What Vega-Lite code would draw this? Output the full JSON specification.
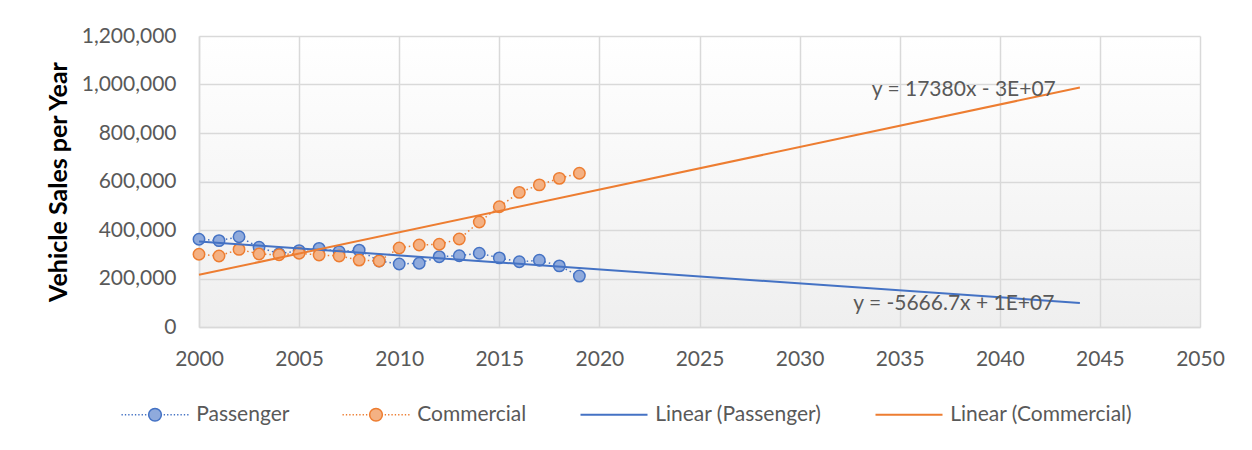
{
  "$schema": "https://vega.github.io/schema/vega-lite/v6.json",
  "width": 1001,
  "height": 291,
  "autosize": {"type": "none"},
  "padding": {"left": 199, "top": 36, "right": 52, "bottom": 123},
  "background": "white",
  "config": {
    "font": "Lato",
    "view": {"stroke": null, "fill": {"gradient": "linear", "x1": 0, "y1": 0, "x2": 0, "y2": 1, "stops": [{"offset": 0, "color": "#FFFFFF"}, {"offset": 1, "color": "#EFEFEF"}]}},
    "axis": {"labelFont": "Lato", "labelFontSize": 21, "labelColor": "#595959", "gridColor": "#D9D9D9", "gridWidth": 1.5, "domainColor": "#D9D9D9", "domainWidth": 1.5, "ticks": false, "labelFlush": false}
  },
  "data": {"values": [
    {"year": 2000, "series": "Passenger", "trend": "Linear (Passenger)", "value": 362000},
    {"year": 2001, "series": "Passenger", "trend": "Linear (Passenger)", "value": 356000},
    {"year": 2002, "series": "Passenger", "trend": "Linear (Passenger)", "value": 372000},
    {"year": 2003, "series": "Passenger", "trend": "Linear (Passenger)", "value": 329000},
    {"year": 2004, "series": "Passenger", "trend": "Linear (Passenger)", "value": 302000},
    {"year": 2005, "series": "Passenger", "trend": "Linear (Passenger)", "value": 315000},
    {"year": 2006, "series": "Passenger", "trend": "Linear (Passenger)", "value": 324000},
    {"year": 2007, "series": "Passenger", "trend": "Linear (Passenger)", "value": 311000},
    {"year": 2008, "series": "Passenger", "trend": "Linear (Passenger)", "value": 317000},
    {"year": 2009, "series": "Passenger", "trend": "Linear (Passenger)", "value": 272000},
    {"year": 2010, "series": "Passenger", "trend": "Linear (Passenger)", "value": 260000},
    {"year": 2011, "series": "Passenger", "trend": "Linear (Passenger)", "value": 263000},
    {"year": 2012, "series": "Passenger", "trend": "Linear (Passenger)", "value": 290000},
    {"year": 2013, "series": "Passenger", "trend": "Linear (Passenger)", "value": 294000},
    {"year": 2014, "series": "Passenger", "trend": "Linear (Passenger)", "value": 304000},
    {"year": 2015, "series": "Passenger", "trend": "Linear (Passenger)", "value": 285000},
    {"year": 2016, "series": "Passenger", "trend": "Linear (Passenger)", "value": 269000},
    {"year": 2017, "series": "Passenger", "trend": "Linear (Passenger)", "value": 275000},
    {"year": 2018, "series": "Passenger", "trend": "Linear (Passenger)", "value": 252000},
    {"year": 2019, "series": "Passenger", "trend": "Linear (Passenger)", "value": 210000},
    {"year": 2000, "series": "Commercial", "trend": "Linear (Commercial)", "value": 300000},
    {"year": 2001, "series": "Commercial", "trend": "Linear (Commercial)", "value": 293000},
    {"year": 2002, "series": "Commercial", "trend": "Linear (Commercial)", "value": 320000},
    {"year": 2003, "series": "Commercial", "trend": "Linear (Commercial)", "value": 301000},
    {"year": 2004, "series": "Commercial", "trend": "Linear (Commercial)", "value": 298000},
    {"year": 2005, "series": "Commercial", "trend": "Linear (Commercial)", "value": 304000},
    {"year": 2006, "series": "Commercial", "trend": "Linear (Commercial)", "value": 297000},
    {"year": 2007, "series": "Commercial", "trend": "Linear (Commercial)", "value": 293000},
    {"year": 2008, "series": "Commercial", "trend": "Linear (Commercial)", "value": 276000},
    {"year": 2009, "series": "Commercial", "trend": "Linear (Commercial)", "value": 272000},
    {"year": 2010, "series": "Commercial", "trend": "Linear (Commercial)", "value": 326000},
    {"year": 2011, "series": "Commercial", "trend": "Linear (Commercial)", "value": 338000},
    {"year": 2012, "series": "Commercial", "trend": "Linear (Commercial)", "value": 341000},
    {"year": 2013, "series": "Commercial", "trend": "Linear (Commercial)", "value": 363000},
    {"year": 2014, "series": "Commercial", "trend": "Linear (Commercial)", "value": 433000},
    {"year": 2015, "series": "Commercial", "trend": "Linear (Commercial)", "value": 496000},
    {"year": 2016, "series": "Commercial", "trend": "Linear (Commercial)", "value": 555000},
    {"year": 2017, "series": "Commercial", "trend": "Linear (Commercial)", "value": 586000},
    {"year": 2018, "series": "Commercial", "trend": "Linear (Commercial)", "value": 613000},
    {"year": 2019, "series": "Commercial", "trend": "Linear (Commercial)", "value": 634000}
  ]},
  "encoding": {
    "x": {"field": "year", "type": "quantitative", "scale": {"domain": [2000, 2050], "nice": false, "zero": false},
      "axis": {"values": [2000, 2005, 2010, 2015, 2020, 2025, 2030, 2035, 2040, 2045, 2050], "format": "d", "title": null, "labelPadding": 21, "grid": true}},
    "y": {"field": "value", "type": "quantitative", "scale": {"domain": [0, 1200000], "nice": false},
      "axis": {"values": [0, 200000, 400000, 600000, 800000, 1000000, 1200000], "format": ",d", "title": "Vehicle Sales per Year", "titleFont": "Lato", "titleFontSize": 25, "titleFontWeight": "bold", "titleColor": "#000000", "titlePadding": 10, "labelPadding": 23, "grid": true}}
  },
  "layer": [
    {
      "mark": {"type": "line", "strokeDash": [1.5, 3], "strokeWidth": 1.5},
      "encoding": {
        "stroke": {"field": "series", "type": "nominal",
          "scale": {"domain": ["Passenger", "Commercial", "Linear (Passenger)", "Linear (Commercial)"], "range": ["#4472C4", "#ED7D31", "#4472C4", "#ED7D31"]},
          "legend": {
            "title": null, "orient": "none", "legendX": -78, "legendY": 368, "direction": "horizontal",
            "labelFont": "Lato", "labelFontSize": 21, "labelColor": "#595959", "labelLimit": 0, "symbolSize": 4489, "symbolOffset": 23.5, "labelOffset": 30.7, "columnPadding": 49,
            "encode": {"symbols": {"update": {
              "shape": {"signal": "indexof(['Passenger','Commercial'], datum.value) >= 0 ? 'M-1,0h0.04M-0.9,0h0.04M-0.8,0h0.04M-0.7,0h0.04M-0.6,0h0.04M-0.5,0h0.04M-0.4,0h0.04M-0.3,0h0.04M0.26,0h0.04M0.36,0h0.04M0.46,0h0.04M0.56,0h0.04M0.66,0h0.04M0.76,0h0.04M0.86,0h0.04M0.96,0h0.04M-0.19,0A0.19,0.19,0,1,0,0.19,0A0.19,0.19,0,1,0,-0.19,0Z' : 'M-1,0H1'"},
              "fill": {"signal": "datum.value === 'Passenger' ? '#8FAADC' : datum.value === 'Commercial' ? '#F4B183' : 'transparent'"},
              "strokeWidth": {"signal": "indexof(['Passenger','Commercial'], datum.value) >= 0 ? 1.5 : 2"},
              "strokeDash": {"value": []},
              "opacity": {"value": 1}
            }}}
          }
        }
      }
    },
    {
      "mark": {"type": "point", "filled": true, "size": 130, "strokeWidth": 1.5, "opacity": 1},
      "encoding": {
        "fill": {"field": "series", "type": "nominal", "scale": {"domain": ["Passenger", "Commercial"], "range": ["#8FAADC", "#F4B183"]}, "legend": null},
        "stroke": {"field": "series", "type": "nominal"}
      }
    },
    {
      "transform": [{"regression": "value", "on": "year", "groupby": ["trend"], "extent": [2000, 2044]}],
      "mark": {"type": "line", "strokeWidth": 2},
      "encoding": {
        "stroke": {"field": "trend", "type": "nominal"}
      }
    },
    {
      "data": {"values": [
        {"year": 2038.2, "value": 977000, "label": "y = 17380x - 3E+07"},
        {"year": 2037.7, "value": 95000, "label": "y = -5666.7x + 1E+07"}
      ]},
      "mark": {"type": "text", "font": "Lato", "fontSize": 21, "color": "#595959", "align": "center", "baseline": "middle"},
      "encoding": {"text": {"field": "label", "type": "nominal"}}
    }
  ]
}
